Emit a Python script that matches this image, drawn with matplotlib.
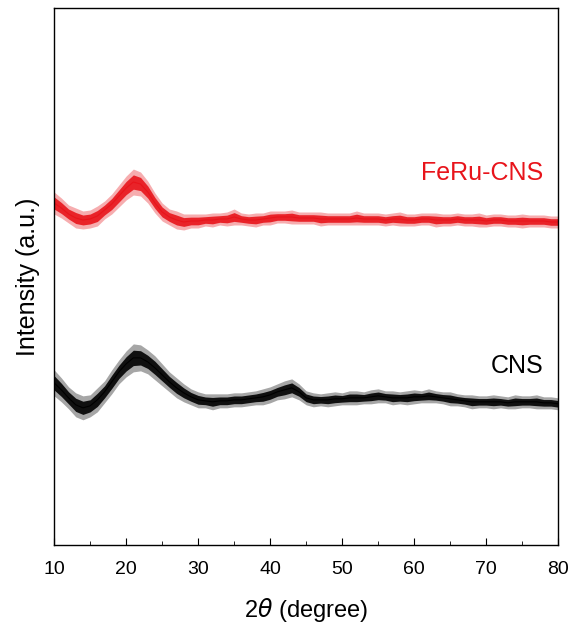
import matplotlib.pyplot as plt
from matplotlib.ticker import MultipleLocator

plt.rcParams['font.family'] = ['Liberation Sans', 'DejaVu Sans']

# 2theta positions, one per degree
two_theta = list(range(10, 81))

# FeRu-CNS trace: mid value and spread of the noise band (a.u.)
feru_mid = [342, 337, 331, 327, 325, 326, 329, 335, 341, 349, 357, 363, 361, 353, 342, 333,
            328, 325, 323, 324, 324, 325, 325, 326, 326, 328, 326, 325, 325, 326, 327, 328,
            328, 328, 327, 327, 327, 326, 326, 326, 326, 326, 327, 326, 326, 326, 325, 326,
            326, 325, 325, 326, 326, 325, 325, 325, 326, 325, 325, 325, 324, 325, 325, 324,
            324, 324, 324, 324, 324, 323, 323]
feru_spread = [11, 10, 9, 10, 9, 9, 10, 9, 10, 11, 12, 13, 12, 11, 10, 9,
               8, 9, 8, 7, 7, 6, 7, 6, 7, 8, 6, 6, 7, 6, 7, 6,
               6, 7, 6, 6, 6, 7, 6, 6, 6, 6, 7, 6, 6, 6, 6, 6,
               7, 6, 6, 6, 6, 7, 6, 6, 6, 6, 6, 7, 6, 6, 6, 6,
               6, 7, 6, 6, 6, 6, 6]

# CNS trace
cns_mid = [162, 155, 147, 140, 137, 139, 145, 153, 163, 173, 181, 187, 187, 183, 177, 170,
           163, 157, 152, 148, 145, 144, 143, 144, 144, 145, 145, 146, 147, 148, 150, 153,
           155, 157, 153, 147, 145, 145, 145, 146, 146, 147, 147, 147, 148, 149, 148, 147,
           147, 147, 148, 148, 149, 148, 147, 146, 145, 144, 143, 143, 143, 143, 143, 142,
           143, 143, 143, 143, 142, 142, 141]
cns_spread = [13, 12, 11, 12, 12, 11, 12, 11, 12, 12, 13, 14, 13, 12, 12, 11,
              10, 10, 9, 8, 8, 7, 8, 7, 7, 7, 7, 7, 7, 8, 8, 8,
              9, 9, 8, 7, 7, 6, 7, 7, 6, 7, 7, 6, 7, 7, 6, 7,
              6, 7, 7, 6, 7, 6, 6, 7, 6, 6, 7, 6, 6, 7, 6, 6,
              7, 6, 6, 7, 6, 6, 6]

fig = plt.figure(figsize=(5.76, 6.29), dpi=100)
ax = fig.add_axes([0.094, 0.134, 0.875, 0.853])

for mid, spread, col in [(feru_mid, feru_spread, '#e8141b'), (cns_mid, cns_spread, 'black')]:
    lo = [m - s for m, s in zip(mid, spread)]
    hi = [m + s for m, s in zip(mid, spread)]
    ax.fill_between(two_theta, lo, hi, color=col, alpha=0.35, lw=0)
    lo2 = [m - 0.55 * s for m, s in zip(mid, spread)]
    hi2 = [m + 0.55 * s for m, s in zip(mid, spread)]
    ax.fill_between(two_theta, lo2, hi2, color=col, alpha=0.9, lw=0)
    ax.plot(two_theta, mid, color=col, lw=0.8)

ax.text(77.9, 372, 'FeRu-CNS', color='#e8141b', fontsize=18, ha='right', va='center')
ax.text(77.9, 179, 'CNS', color='black', fontsize=18, ha='right', va='center')

ax.set_xlim(10, 80)
ax.set_ylim(0, 537)
ax.xaxis.set_major_locator(MultipleLocator(10))
ax.xaxis.set_minor_locator(MultipleLocator(5))
ax.tick_params(axis='x', which='major', direction='in', length=5, labelsize=14, pad=12)
ax.tick_params(axis='x', which='minor', direction='in', length=3)
ax.set_yticks([])
for s in ax.spines.values():
    s.set_linewidth(1.0)

ax.set_xlabel(r'2$\it{\theta}$ (degree)', fontsize=17, labelpad=13)
ax.set_ylabel('Intensity (a.u.)', fontsize=18, labelpad=10)

fig.savefig('out.png', dpi=100)
